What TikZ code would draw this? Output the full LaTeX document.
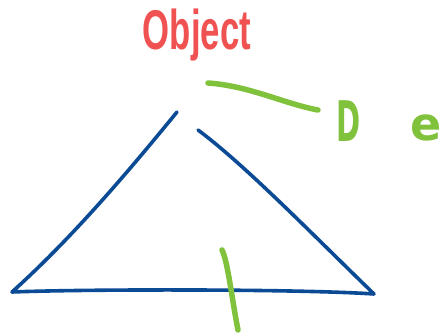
\documentclass[tikz,border=0pt]{standalone}
\usepackage{graphicx}
\usepackage{fontspec}
\setmainfont{Liberation Sans}
\newfontfamily\heavyfont{DejaVu Sans}
\definecolor{inkred}{HTML}{F05252}
\definecolor{inkgreen}{HTML}{80C23C}
\definecolor{inkblue}{HTML}{0B4A94}
\begin{document}
\begin{tikzpicture}[x=1pt,y=-1pt,
  ink/.style={line cap=round,line join=round},
  redtext/.style={text=inkred,inner sep=0pt,anchor=base,font=\bfseries\fontsize{56}{56}\selectfont},
  greentext/.style={text=inkgreen,inner sep=0pt,anchor=base,font=\heavyfont\bfseries\fontsize{56}{56}\selectfont}]
\useasboundingbox (0,0) rectangle (448,336);
\node[redtext] (obj) at (197,50) {\scalebox{0.62}[1]{Object}};
\node[greentext] (d) at (349,142) {\scalebox{0.52}[1]{D}};
\node[greentext,font=\heavyfont\bfseries\fontsize{46}{46}\selectfont] (e) at (426,141) {e};
\coordinate (gstart) at (208,83);
\coordinate (gend) at (318,110);
\coordinate (gtop) at (222,250);
\coordinate (gbot) at (238,330);
% triangle
\draw[ink,inkblue,line width=3.6pt] (177,112) .. controls (128,172) and (72,238) .. (12,292)
  .. controls (90,289) and (300,289) .. (374,294)
  .. controls (310,232) and (245,165) .. (198,130);
% green strokes
\draw[ink,inkgreen,line width=5.5pt] (gstart) .. controls (250,86) and (285,104) .. (gend);
\draw[ink,inkgreen,line width=5.5pt] (gtop) .. controls (228,262) and (232,300) .. (gbot);
\end{tikzpicture}
\end{document}
